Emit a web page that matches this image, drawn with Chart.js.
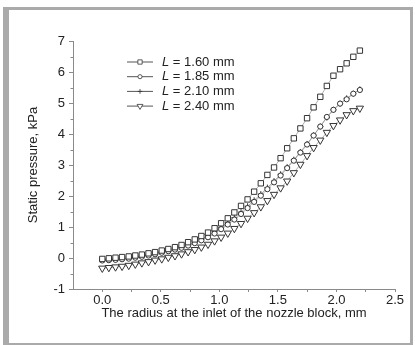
<!DOCTYPE html>
<html>
<head>
<meta charset="utf-8">
<script src="https://cdn.jsdelivr.net/npm/chart.js@4.4.0/dist/chart.umd.min.js"></script>
<style>
  body { margin: 0; background: #fff; }
  .frame { position: absolute; left: 3px; top: 7px; width: 401px; height: 333px;
           border: 3px solid #aaa; border-left-width: 6px; }
  #myChart { position: absolute; left: 0; top: 0; }
</style>
</head>
<body>
<div class="frame"></div>
<canvas id="myChart" width="415" height="345"></canvas>
<script>
// radius at the inlet, mm
const radius = [0.000, 0.056, 0.113, 0.169, 0.226, 0.282, 0.338, 0.395, 0.451, 0.508,
                0.564, 0.621, 0.677, 0.733, 0.790, 0.846, 0.903, 0.959, 1.015, 1.072,
                1.128, 1.185, 1.241, 1.297, 1.354, 1.410, 1.467, 1.523, 1.579, 1.636,
                1.692, 1.749, 1.805, 1.862, 1.918, 1.974, 2.031, 2.087, 2.144, 2.200]

// static pressure, kPa
const p160 = [-0.03, -0.01, 0.01, 0.03, 0.05, 0.08, 0.11, 0.15, 0.19, 0.24,
              0.29, 0.35, 0.42, 0.51, 0.60, 0.71, 0.82, 0.96, 1.12, 1.28,
              1.47, 1.68, 1.89, 2.14, 2.41, 2.68, 2.92, 3.22, 3.54, 3.86,
              4.18, 4.51, 4.86, 5.20, 5.55, 5.88, 6.09, 6.28, 6.49, 6.69]
const p185 = [-0.08, -0.07, -0.06, -0.04, -0.02, 0.01, 0.04, 0.08, 0.12, 0.17,
              0.22, 0.27, 0.33, 0.40, 0.48, 0.57, 0.67, 0.79, 0.93, 1.08,
              1.24, 1.42, 1.61, 1.81, 2.01, 2.22, 2.44, 2.66, 2.90, 3.14,
              3.40, 3.66, 3.95, 4.24, 4.55, 4.78, 4.98, 5.12, 5.30, 5.42]
const p210 = [-0.06, -0.05, -0.04, -0.02, 0.00, 0.03, 0.06, 0.10, 0.14, 0.19,
              0.24, 0.30, 0.36, 0.43, 0.52, 0.61, 0.72, 0.85, 0.99, 1.14,
              1.30, 1.48, 1.67, 1.86, 2.06, 2.27, 2.48, 2.70, 2.93, 3.17,
              3.42, 3.68, 3.96, 4.24, 4.53, 4.78, 4.98, 5.15, 5.30, 5.44]
const p240 = [-0.33, -0.31, -0.29, -0.27, -0.24, -0.20, -0.16, -0.12, -0.07, -0.03,
              0.02, 0.07, 0.13, 0.20, 0.27, 0.35, 0.44, 0.55, 0.67, 0.80,
              0.95, 1.11, 1.28, 1.46, 1.65, 1.85, 2.05, 2.26, 2.48, 2.75,
              3.02, 3.30, 3.56, 3.80, 4.05, 4.27, 4.45, 4.62, 4.75, 4.83]

const seriesLabels = ['L = 1.60 mm', 'L = 1.85 mm', 'L = 2.10 mm', 'L = 2.40 mm']

const xTicks = [0, 0.25, 0.5, 0.75, 1, 1.25, 1.5, 1.75, 2, 2.25, 2.5]
const yTicks = [-1, 0, 1, 2, 3, 4, 5, 6, 7]
const yMinor = [-0.5, 0.5, 1.5, 2.5, 3.5, 4.5, 5.5, 6.5]

const FONT = "'Liberation Sans', Arial, sans-serif"
const axisColor = '#8a8a8a'
const textColor = '#222'

function makeSet(label, values, style, r, rot) {
  return {
    label: label,
    data: radius.map((x, i) => ({ x: x, y: values[i] })),
    showLine: true,
    borderColor: '#9a9a9a',
    borderWidth: 0.8,
    pointStyle: style,
    pointRadius: r,
    pointRotation: rot || 0,
    pointBorderColor: '#2a2a2a',
    pointBackgroundColor: '#fff',
    pointBorderWidth: 0.95,
  }
}

// short minor ticks on the y axis
const minorTicks = {
  id: 'minorTicks',
  afterDraw(chart) {
    const { ctx, scales: { y } } = chart
    ctx.save()
    ctx.strokeStyle = axisColor
    ctx.lineWidth = 1
    ctx.beginPath()
    yMinor.forEach(v => {
      const py = Math.round(y.getPixelForValue(v)) + 0.5
      ctx.moveTo(y.right - 2.5, py)
      ctx.lineTo(y.right, py)
    })
    ctx.stroke()
    ctx.restore()
  }
}

// legend with italic L
const legendBox = {
  id: 'legendBox',
  afterDraw(chart) {
    const { ctx, chartArea } = chart
    const x0 = chartArea.left + 54
    ctx.save()
    chart.data.datasets.forEach((ds, i) => {
      const yy = chartArea.top + 21 + i * 14.7
      ctx.strokeStyle = '#555'
      ctx.lineWidth = 1
      ctx.beginPath()
      ctx.moveTo(x0, yy)
      ctx.lineTo(x0 + 26, yy)
      ctx.stroke()
      ctx.fillStyle = '#fff'
      ctx.strokeStyle = '#333'
      ctx.lineWidth = 0.8
      Chart.helpers.drawPoint(ctx, {
        pointStyle: ds.pointStyle,
        rotation: ds.pointRotation,
        radius: ds.pointRadius * 0.8,
        borderWidth: 0.8
      }, x0 + 13, yy)
      ctx.fillStyle = textColor
      ctx.textBaseline = 'middle'
      ctx.textAlign = 'left'
      ctx.font = 'italic 13px ' + FONT
      const tx = x0 + 35
      ctx.fillText(ds.label[0], tx, yy)
      const w = ctx.measureText(ds.label[0]).width
      ctx.font = '13px ' + FONT
      ctx.fillText(ds.label.slice(1), tx + w, yy)
    })
    ctx.restore()
  }
}

const ctx = document.getElementById('myChart')

new Chart(ctx, {
  type: 'scatter',
  data: {
    datasets: [
      makeSet(seriesLabels[0], p160, 'rect', 3.8),
      makeSet(seriesLabels[1], p185, 'circle', 2.6),
      makeSet(seriesLabels[2], p210, 'cross', 3),
      makeSet(seriesLabels[3], p240, 'triangle', 4.2, 180),
    ]
  },
  options: {
    responsive: false,
    animation: false,
    devicePixelRatio: 1,
    layout: { padding: { left: 0, right: 20, top: 41, bottom: 0 } },
    plugins: {
      legend: { display: false },
      tooltip: { enabled: false }
    },
    scales: {
      x: {
        type: 'linear',
        min: -0.25,
        max: 2.5,
        afterFit: s => { s.height = 56 },
        afterBuildTicks: s => { s.ticks = xTicks.map(v => ({ value: v })) },
        border: { display: true, color: axisColor, width: 1 },
        grid: { drawOnChartArea: false, drawTicks: true, tickLength: 3, color: axisColor },
        ticks: {
          autoSkip: false,
          maxRotation: 0,
          padding: 1,
          color: textColor,
          font: { size: 13, family: FONT },
          callback: v => (v * 2) % 1 === 0 ? v.toFixed(1) : ''
        },
        title: {
          display: true,
          text: 'The radius at the inlet of the nozzle block, mm',
          color: textColor,
          font: { size: 13, family: FONT },
          padding: { top: 0, bottom: 24 }
        }
      },
      y: {
        type: 'linear',
        min: -1,
        max: 7,
        afterFit: s => { s.width = 73 },
        afterBuildTicks: s => { s.ticks = yTicks.map(v => ({ value: v })) },
        border: { display: true, color: axisColor, width: 1 },
        grid: { drawOnChartArea: false, drawTicks: true, tickLength: 4, color: axisColor },
        ticks: {
          autoSkip: false,
          padding: 4,
          color: textColor,
          font: { size: 13, family: FONT },
          callback: v => String(v)
        },
        title: {
          display: true,
          text: 'Static pressure, kPa',
          color: textColor,
          font: { size: 13, family: FONT },
          padding: { top: 26, bottom: 0 }
        }
      }
    }
  },
  plugins: [minorTicks, legendBox]
})
</script>
</body>
</html>
